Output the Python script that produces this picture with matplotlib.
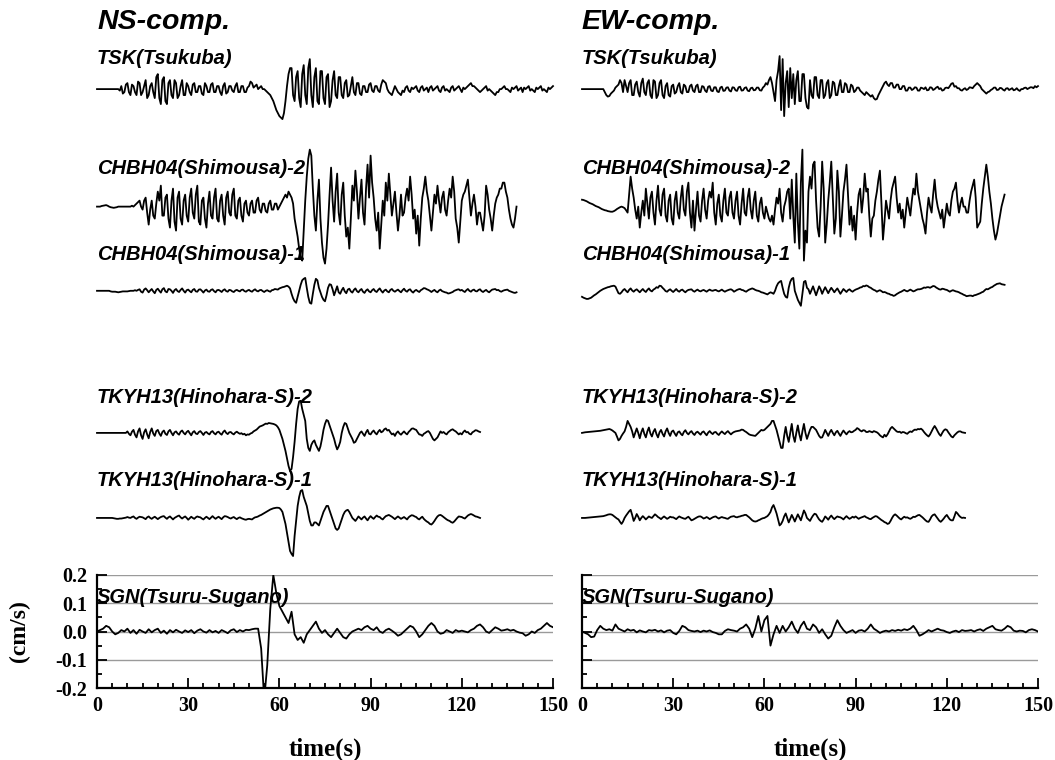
import numpy as np
import matplotlib
matplotlib.use("Agg")
import matplotlib.pyplot as plt
from matplotlib.ticker import MultipleLocator, FormatStrFormatter

plt.rcParams["axes.unicode_minus"] = False

DT_FINE = 0.5  # s, sample interval of the stacked traces
DT = 1.0  # s, sample interval of the SGN traces
REL = 3 / 282.5  # cm/s per unit for the stacked (relative) traces
SGN_UNIT = 0.01  # SGN values are in 0.01 cm/s

STATIONS = ["TSK(Tsukuba)", "CHBH04(Shimousa)-2", "CHBH04(Shimousa)-1",
            "TKYH13(Hinohara-S)-2", "TKYH13(Hinohara-S)-1"]
SGN_NAME = "SGN(Tsuru-Sugano)"
TIME_TICKS = [0, 30, 60, 90, 120, 150]

# ---- NS component ----
tsk_ns = [0, 0, 0, 0, 0, 0, 0, 0, 0, 0, 0, 0, 0, 0, 0, -0.5, 1, -1.5, -1, 1.5,
          2, -1, -2, 1.5, 1, -1, -2, 2.5, 2, -2, -1, 1, 3, -3, -2, 1, 2, -1, -3, 4,
          5, -3, -5, 3, 4, -4, -5, 2, 3, -2, -3, 3, 2, -3, -2, 1, 3, -2, -2, 2,
          1, -1, -2, 1.5, 2, -1, -1, 1, 1, -1.5, -2, 2, 1, -1, -1, 1.5, 2, -1, -1, 1,
          1, -1, -2, 1, 2, -1.5, -1, 1, 1, -0.5, -1, 1, 2, -1, -1, 1, 1, -1, -1, 0.5,
          1, 2.5, 2, 0.5, 1, 1.5, 0, 0.5, 1, 0, 0, -0.5, -1, -1.5, -2, -3, -4, -5.5, -7, -8,
          -9, -9.5, -10, -8, -4, 1, 5, 7, 7, -2, -4, 4, 6, -3, -6, 5, 8, -2, -5, 7,
          10, -2, -6, 4, 7, -4, -5, 6, 6, -3, -5, 4, 5, -6, -4, 3, 6, -2, -3, 4,
          4, -2, -3, 2, 3, -2.5, -2, 1, 4, -1, -2, 2, 2, -1.5, -2, 1, 1, -1, -1, 1.5,
          2, -0.5, -1, 1, 1, -0.5, -1, 1.5, 3, 2.5, 2, 0, -1, -1.5, -2, -0.5, 1, 0, -1, -1.5,
          -2, -0.5, -1, 0.5, 1, -0.5, -1, 0.5, 0, 0.5, 1, -0.5, -1, 0.5, 1, -0.5, 0, 0.5, -1, 0.5,
          1, -0.5, 0, 0.5, 1, -0.5, -1, 0.5, 1, -0.5, 0, -0.5, -1, 0.5, 1, -0.5, 0, 0.5, 1, 0,
          -1, 0.5, 0, 0.5, 1, 1.5, 2, 1, 1, 0.5, 0, -0.5, -1, -0.5, 0, 0.5, 1, -0.5, 0, -0.5,
          -1, -1.5, -2, -1, -1, 0, 0, 0.5, 1, 0, 0, -0.5, -1, 0.5, 0, 0.5, 1, -0.5, 0, 0.5,
          -1, 0.5, 0, 0.5, 1, -0.5, 0, -0.5, -1, 0.5, 0, 0.5, 1, -0.5, 0, -0.5, -1, 0.5, 0, 0.5,
          1]

chbh2_ns = [0, 0, 0, 0.2, 0.3, 0.4, 0.5, 0.3, 0, -0.2, -0.3, -0.4, -0.3, -0.2, 0, 0, 0, 0, 0, 0,
            0, 0, 0, 0.3, 0, 0.5, 1, 1.5, 2, 0, -1, 2, 3, -2, -6, -1, 2, -3, -4, 1,
            5, 2, 7, -3, -3, 3, 4, -4, -7, 2, 6, -5, -8, 3, 5, -4, -6, 2, 4, -3,
            -5, 3, 6, -2, -4, 4, 7, -5, -6, 2, 3, -4, -7, 1, 5, -3, -4, 3, 6, -4,
            -5, 2, 4, -3, -6, 3, 5, -2, -3, 4, 6, -3, -4, 2, 3, -3, -5, 1, 2, -2,
            -3, 1, 2, -2, -2, 2, 3, -1, -2, 1, 1, -1.5, -2, 1, 2, -1, -1, 1, 1, -1,
            0, 1, 2, 3, 4, 3, 5, 4, 3, 1, -4, -7, -10, -14, -17, -18, -8, 2, 10, 16,
            19, 17, 6, -3, -8, 2, 9, -4, -12, -17, -19, -14, -6, 4, 13, 2, -5, 5, 11, -2,
            -6, 4, 8, -3, -10, -7, -14, -4, 7, 2, 12, 5, -4, 3, 9, -2, -6, 6, 14, 3,
            17, 8, 3, -4, -8, -2, -14, -6, 2, -3, 8, 2, 11, 4, -3, 1, 5, -2, -8, -3,
            4, -3, -2, 3, 6, 2, 10, 4, -4, -1, -9, -3, -13, -4, 3, 6, 10, 5, 2, -3,
            -8, -2, 4, 1, 7, 2, -2, 3, 5, -1, -3, 2, 6, 3, 10, 5, -4, -7, -12, -5,
            2, 4, 5, 7, 9, 3, -3, 1, 4, 0, -6, -2, -2, -5, -8, -3, 7, 4, -1, -4,
            -8, -3, 1, 3, 4, 6, 6, 8, 8, 5, 3, -1, -4, -6, -7, -4, 0]

chbh1_ns = [0, 0, 0, 0, 0, 0, 0, 0, 0, -0.2, -0.3, -0.3, -0.3, -0.4, -0.5, -0.4, -0.3, -0.2, -0.2, -0.2,
            -0.2, -0.1, 0, 0, 0, 0.2, 0, 0.3, 0.5, -0.3, -0.6, 0.4, 0.8, 0.2, -0.5, 0.1, 0.6, -0.2, -0.8, 0.3,
            0.7, 0, -0.6, 0.5, 0.9, -0.2, -0.5, 0.6, 0.5, 0, -0.7, 0.2, 0.6, -0.1, -0.4, 0.3, 0.8, 0, -0.6, 0.2,
            0.4, -0.1, -0.5, 0.3, 0.6, -0.2, -0.3, 0.4, 0.5, 0, -0.6, 0.1, 0.4, -0.2, -0.3, 0.3, 0.5, -0.1, -0.5, 0.2,
            0.3, 0, -0.4, 0.2, 0.5, -0.1, -0.3, 0.3, 0.2, -0.2, -0.4, 0.1, 0.3, 0, -0.2, 0.3, 0.4, -0.1, -0.3, 0.1,
            0.3, -0.1, -0.3, 0.2, 0.5, 0, -0.2, 0.2, 0.3, -0.1, -0.4, 0, 0.2, -0.1, -0.3, 0.2, 0.3, 0.6, 0.5, 0.4,
            0.8, 1, 1.2, 1.3, 1.5, 1.7, 1.4, 0.8, -1, -2.5, -3.5, -4, -2, 0, 2, 3.5, 4, 4.3, 1, -2,
            -4, -4.3, -1, 2, 4, 3.5, 1, -0.5, -2, -3, -3.5, -1.5, 1, 2.2, 2, 0.5, -1.5, 0, 1.5, -0.5,
            -1, 0.2, 1, -0.2, -0.8, 0.4, 0.7, -0.2, -0.6, 0.3, 0.8, -0.1, -0.5, 0.2, 0.6, -0.3, -0.7, 0.1, 0.5, -0.2,
            -0.5, 0.2, 0.6, -0.1, -0.4, 0.3, 0.8, 0, -0.6, 0.1, 0.4, -0.2, -0.5, 0.3, 0.6, 0, -0.3, 0.1, 0.4, -0.1,
            -0.5, 0.2, 0.7, 0, -0.3, 0.3, 0.5, -0.2, -0.6, 0, 0.3, -0.1, -0.4, 0.2, 0.5, 0.9, 0.8, 0.5, 0.3, 0,
            -0.4, 0, 0.3, -0.2, -0.5, 0.1, 0.4, -0.1, -0.3, -0.5, -0.6, -0.9, -0.8, -0.6, -0.4, 0, 0.2, 0.4, 0.5, 0.1,
            0.3, -0.1, -0.4, 0.2, 0.6, 0, -0.3, 0.2, 0.4, -0.1, -0.2, 0.3, 0.5, -0.1, -0.4, 0, 0.3, -0.2, -0.5, 0,
            0.4, 0.5, 0.6, 0.2, 0.3, -0.1, -0.3, 0, 0.2, 0.3, 0.4, 0, -0.2, -0.4, -0.6, -0.7, -0.5]

tkyh2_ns = [0, 0, 0, 0, 0, 0, 0, 0, 0, 0, 0, 0, 0, 0, 0, 0, 0, 0, 0, 0,
            0.5, -0.3, -0.8, 0.4, 1, -0.6, -1.5, 0.5, 1.5, -0.8, -2, 0.2, 1.2, -0.5, -1.8, 0.3, 1.5, -0.2, -1, 0.6,
            1, -0.2, -1, 0.3, 0.8, -0.3, -0.7, 0.5, 1, 0, -0.8, 0.2, 0.5, -0.2, -0.6, 0.4, 0.8, 0, -0.5, 0.3,
            0.7, -0.1, -0.8, 0.2, 0.6, -0.2, -0.4, 0.3, 0.6, 0, -0.7, 0.1, 0.3, -0.2, -0.5, 0.3, 0.6, -0.1, -0.5, 0.2,
            0.4, -0.2, -0.6, 0.3, 0.8, 0, -0.4, 0.2, 0.3, -0.2, -0.5, 0.1, 0.4, 0, -0.3, -0.1, -0.5, -0.3, -0.8, -0.5,
            -0.6, -0.2, 0, 0.5, 0.8, 1.1, 1.6, 2.1, 2.3, 2.5, 2.8, 3.1, 3, 3.3, 3.2, 3.1, 3, 2.8, 2.5, 1.9,
            1, -0.5, -2, -4, -6, -8.5, -11, -12.7, -12, -8, -3, 3, 8, 10.5, 10.7, 8, 6, 4, -2, -5,
            -6, -4, -3, -2.5, -4, -5, -6, -4.5, -2, 1, 3, 4.3, 4, 2.5, 1, -0.5, -2, -4, -5.5, -4.5,
            -3, 0, 2, 3.3, 3, 1.5, 0, -1, -2, -3.3, -3, -2, -1, 0, 0.5, -0.3, -1, 0.2, 1, -0.3,
            -0.5, 0.3, 0.8, 0, -0.5, 0.4, 1, 0.2, 0.5, 1.2, 1.5, 0.8, 1, 0.2, -0.5, -0.2, -1, 0, 0.5, -0.2,
            -0.6, 0, 0.5, -0.1, -0.5, 0.3, 0.8, 1.4, 1.5, 1.2, 1, 0.2, -0.5, -0.6, -1, -0.3, 0, 0.4, 0.6, 0,
            -1, -2, -2.5, -2, -1.5, -0.5, 0.5, 0, 0.3, -0.2, -0.5, 0.2, 0.6, 1, 1.2, 0.8, 0.5, 0, -0.5, -0.1,
            -0.5, 0.3, 0.8, 0.2, 0.3, -0.3, -0.5, 0.2, 0.5, 0.9, 0.8, 0.5, 0.3]

tkyh1_ns = [0, 0, 0, 0, 0, 0, 0, 0, 0, 0, 0, -0.1, -0.2, -0.3, -0.3, -0.2, -0.2, -0.1, 0, 0.1,
            0.3, 0.1, 0, 0.3, 0.5, 0, -0.3, 0.1, 0.4, 0.3, 0.2, -0.1, -0.4, 0.2, 0.5, 0, -0.3, 0.1, 0.4, 0,
            -0.4, 0, 0.3, 0.5, 0.6, 0.1, -0.3, 0.2, 0.5, 0, -0.5, 0, 0.3, 0.6, 0.8, 0.2, -0.2, 0.2, 0.5, 0,
            -0.6, -0.1, 0.4, 0, -0.3, 0.2, 0.5, 0.3, 0.2, -0.2, -0.5, 0, 0.4, 0, -0.4, 0.1, 0.6, 0.1, -0.3, 0.1,
            0.4, 0, -0.4, 0.2, 0.6, 0.5, 0.3, 0, -0.2, 0.1, 0.3, -0.1, -0.4, 0, 0.2, -0.1, -0.3, -0.5, -0.6, -0.4,
            -0.3, -0.4, -0.5, -0.1, 0.2, 0.3, 0.5, 0.8, 1, 1.3, 1.6, 1.9, 2.2, 2.5, 2.8, 3, 3.2, 3.3, 3.4, 3.4,
            3.3, 2.8, 2, 0, -2, -5, -8, -11, -12, -12.7, -6, -1, 4, 7, 9, 9.3, 7, 5.5, 4, 1.5,
            -1, -2.5, -2.5, -1.5, -1.5, -2, -2.5, -1, 0.5, 2, 3, 4, 4, 2.5, 1, -0.5, -2, -3.5, -4, -3.5,
            -2, -0.5, 1, 2, 2.5, 2.7, 2, 1, 0, -0.5, -1, -0.3, 0.5, 0, -0.5, 0.1, 0.5, -0.2, -0.8, 0,
            0.6, 0.1, -0.3, 0.3, 0.8, 0.4, 0.3, -0.2, -0.5, 0.1, 0.6, 0.8, 1, 0.7, 0.4, 0, -0.4, 0.1, 0.5, 0.1,
            -0.3, 0, 0.3, -0.1, -0.5, 0.2, 0.6, 0.9, 0.8, 0.5, 0.3, -0.2, -0.5, 0, 0.4, -0.3, -0.8, -1.2, -1.5, -2,
            -2.2, -1.7, -1, -0.2, 0.5, 0.9, 1, 0.7, 0.3, -0.1, -0.5, -0.8, -1, -1.4, -1.6, -1.2, -0.6, 0, 0.5, 0.4,
            0.3, 0, -0.2, 0.3, 0.8, 1.1, 1.3, 1.1, 0.8, 0.5, 0.4, 0.2, 0]

sgn_ns = [0, 0.5, 1, 2, 1.5, 0, -1, -0.5, 0.5, 0,
          1, -0.5, 0.5, -0.8, 0.6, 0, -0.5, 0.8, -0.3, 0.5,
          1, -0.5, 0.3, -0.8, 0.5, -0.3, 0.6, 0, -0.5, 0.4,
          -0.2, 0.5, -0.6, 0.3, 0.8, 0, -0.4, 0.5, -0.3, 0.2,
          -0.5, 0.5, 0, -0.6, 0.4, 0.8, -0.2, 0.5, 0, 0.6,
          0.5, 0.8, 1, 1, -6, -24, -12, 8, 20, 13.5,
          9, 7, 5, 3, 7, -1, -3, -2, -4, -1,
          0.5, 2, 3.5, 1, -0.5, 0.5, -1, -2, -0.5, 1,
          -0.5, -2, -2.5, -1, 0, 0.5, 1, 0.5, 1.5, 2,
          1, 0.5, 1.5, 0, -0.5, 0.5, 1, 0.3, -0.5, -1.5,
          -1, 0, 1, 2, 1.5, 0, -2, -1, 0.5, 2,
          3, 2, 0, -0.8, -0.5, 0.5, 0, -0.5, 0.5, 0,
          0.3, 0, -0.3, 0.5, 1, 2, 2.5, 1.5, 0, -0.5,
          0.5, 1.5, 1, 0.3, 0.5, 0.8, 0.3, 0.6, 0, -0.4,
          -0.6, -1.5, -1, 0, -0.5, 0.5, 1, 2, 3, 2,
          1.5]

# ---- EW component ----
tsk_ew = [0, 0, 0, 0, 0, 0, 0, 0, 0, 0, 0, 0, 0, 0, 0, -1, -2, -2.5, -2.3, -1.5,
          -1, -0.5, 0.5, 1, 1.5, 3, 2, -1, 3, 1, -1, 2, 3, -2, -2, 1.5, 2.5, -1, -2.5, 2,
          3.5, -1, -2, 2, 3, -2, -3, 3, 2.5, -3, -2, 2, 3, -2, -3, 1, 2, -2, -2.5, 1,
          1.5, -1.5, -1, 1, 2, -1, -1.5, 1.5, 1, -1, -1, 1, 1.5, -0.5, -1, 1, 1.5, -1, -1, 1,
          0.8, -0.5, -1, 0.8, 1, -0.5, -0.7, 0.6, 0.6, -0.8, -1, 0.5, 0.8, -0.6, -0.5, 0.5, 0.6, -0.5, -0.8, 0.6,
          0.5, -0.4, -0.6, 0.6, 0.8, -0.5, -0.4, 0.4, 0.6, -0.5, -0.7, 0.3, 0.5, -0.4, -0.3, 0.5, 0.5, -0.4, -0.5, 0.5,
          1, 2, 1.5, 3, 4, 2, -1, -4, 3, 6, 11, -7, 10, -9, 2, 6, -6, 7, -3, 5,
          -5, 3, 6, -4, -4, 5, 5, -3, -6, -6.5, 3, -2, -3, 4, 4, -2, -3, 3, 3, -3,
          -2, 2, 3, -3, -2, 2.5, 2, -2, -2, 1, 3, -1, -1, 2, 1.5, -1, -1, 1.5, 1, -1,
          -0.5, 0.5, 0.5, -0.5, -1, -1.5, -2, -1, -1.5, -2, -2.5, -2, -3, -3.5, -3.3, -2, -1, 0, 1, 2,
          2.5, 1.5, 1, 2, 2, 0.5, 0.5, 1.5, 1.5, 0, 0, 1, 1, -0.5, -0.5, 0.5, 0.5, -0.3, 0, 0.6,
          0.5, -0.5, -0.5, 0.5, 0.3, 0, 0.6, -0.4, -0.3, 0.6, 0.5, -0.3, 0, 0.5, 0.8, 0, 0.3, -0.5, -0.3, 0.4,
          0.5, 0.3, 1, 1.8, 2, 0.8, 1, 0.3, 0.3, -0.3, -0.5, 0, 0.3, -0.3, 0, 0.6, 0.5, 0.3, 1, 1.5,
          2, 1.5, 1, 0, -0.5, -1, -1.5, -1, -0.8, -0.3, 0, 0.5, 0.5, -0.3, -0.2, 0.4, 0.3, -0.2, -0.5, 0.2,
          0.3, -0.3, 0, 0.3, -0.4, -0.2, 0.3, -0.3, -0.6, 0, 0, 0.4, 0.5, 0, 0.3, 0.6, 0.6, 0.3, 1, 0.6,
          1]

chbh2_ew = [2.3, 2.2, 2, 1.8, 1.5, 1.2, 1, 0.8, 0.5, 0.2, 0, -0.2, -0.5, -0.8, -1, -1.2, -1.3, -1.5, -1.6, -1.7,
            -1.7, -1.5, -1.2, -0.8, -0.5, -0.2, 0, -0.2, -0.5, -1.2, -2, 4, 10, 6, 3, -1, -4, 0, -7, -2,
            2, -3, 6, 1, -4, 3, 5, -2, -6, 2, 7, -1, -3, 4, 6, -3, -5, 2, 4, -4,
            -6, 2, 5, -2, -4, 3, 7, -1, -3, 5, 8, -2, -7, 2, -8, -1, 5, -3, -5, 2,
            6, -1, -4, 2, 5, 3, 8, -2, -6, 1, 4, -3, -5, 2, 6, -2, -3, 3, 5, -2,
            -4, 2, 5, -3, -6, 1, 6, -2, -3, 3, 6, -1, -4, 2, 5, -3, -5, 1, 3, -2,
            -4, 0, -2, -4, -5, -3, -6, -1, 3, 1, 6, -2, -5, 0, 2, 5, 6, -4, 9, -3,
            -12, 11, -5, -14, 8, 19, -18, -8, -12, 5, 10, 6, 14, 15, 2, -7, -10, 0, 15, 6,
            -12, -6, 2, 8, 15, 3, -9, -4, 12, 5, -10, -3, 5, 9, 14, 4, -6, 0, -8, -3,
            -11, -2, 4, 6, -2, 3, 11, 5, 6, -3, -10, -4, -3, 2, 5, 9, 12, 1, -11, -5,
            2, -1, -4, 2, 6, 8, 10, 3, -2, 1, -4, -1, -7, -2, 3, 0, -3, 2, 6, 4,
            11, 5, 2, -1, -4, -6, -9, -2, 3, 0, -2, 4, 9, 3, 0, -2, -4, -1, -7, -3,
            1, -2, -3, 2, 5, 6, 8, 2, -2, 1, 3, 0, 0, -2, -2, 2, 5, 7, 9, 3,
            -7, -6, -5, 1, 6, 10, 14, 10, 5, 1, -4, -8, -11, -9, -6, -3, 0, 2, 4]

chbh1_ew = [-2, -2.3, -2.5, -2.7, -2.7, -2.5, -2.3, -1.9, -1.5, -1.2, -0.8, -0.4, 0, 0.3, 0.6, 0.8, 1, 1.2, 1.3, 1.5,
            1.6, 1.7, 1.4, 0.3, -0.8, -1, -0.5, 0.2, 0.6, 0, -0.5, 0.3, 0.8, 0.1, -0.3, 0.2, 0.5, 0, -0.5, 0.1,
            0.6, 0, -0.4, 0.3, 0.8, 0.1, -0.2, 0.4, 0.7, 1.2, 1, 1.7, 1.6, 1, 0.5, -0.1, -0.3, 0.2, 0.5, 0,
            -0.4, 0.1, 0.6, 0, -0.3, 0.2, 0.4, -0.1, -0.5, 0, 0.3, 0.4, 0.5, 0, -0.3, 0.1, 0.4, 0, -0.2, 0.1,
            0.3, 0, -0.3, 0.1, 0.4, 0.1, 0, 0.2, 0.3, 0, -0.2, 0.1, 0.4, 0, -0.3, 0, 0.2, 0.4, 0.5, 0.2,
            -0.3, 0, 0.3, 0.5, 0.6, 0.3, 0.2, -0.1, -0.3, 0.1, 0.4, 0.6, 0.8, 0.6, 0.3, 0.1, 0, -0.2, -0.5, -0.6,
            -0.8, -1, -1.2, -0.8, -0.5, -0.7, -1, 0, 1.5, 2.5, 3, 3.3, 1, -1, -2, -2.3, 1, 3, 4, 4.3,
            0, -1.5, -3, -4, -5, -1, 3, 3.3, 1, 0.5, -1, 0.3, 1.5, 0, -1.5, 0, 1.5, 0.5, -1, 0.2,
            1.2, 0.2, -0.8, 0.2, 1, 0.3, -0.5, 0.2, 0.8, -0.1, -1, -0.2, 0.6, 0.1, -0.4, 0.2, 0.5, 0, -0.3, 0.1,
            0.4, 0.6, 0.8, 1.1, 1.2, 1.6, 1.5, 1.8, 1.6, 1.2, 1, 0.6, 0.3, 0.1, -0.3, 0, 0.2, -0.1, -0.5, -0.4,
            -0.6, -0.9, -1, -1.3, -1.4, -1.7, -1.5, -1.1, -0.8, -0.5, -0.3, 0, 0.3, 0, -0.2, 0.1, 0.4, 0.1, -0.2, 0,
            0.3, 0.5, 0.5, 0.6, 0.8, 1.1, 1, 1.2, 1.2, 1, 1.3, 1.6, 1.5, 1.1, 0.8, 0.5, 0.4, 0.7, 0.6, 0.4,
            0.3, 0, -0.3, 0, 0.2, 0, -0.2, -0.3, -0.5, -0.8, -1, -1.3, -1.5, -1.8, -1.7, -1.6, -1.6, -1.8, -1.5, -1.4,
            -1.2, -1, -0.8, -0.5, -0.3, 0.2, 0.6, 0.5, 0.8, 1.1, 1.3, 1.7, 2, 2.3, 2.4, 2.5, 2.2, 2.1, 2]

tkyh2_ew = [0, 0.1, 0.2, 0.25, 0.3, 0.35, 0.4, 0.45, 0.5, 0.55, 0.6, 0.65, 0.7, 0.8, 0.9, 1, 1.1, 1.2, 1.3, 1.1,
            0.8, 0.4, 0, -1.2, -2.5, -2, -1, -0.2, 0.5, 2, 4, 3, 2, 0.5, -1.5, 0, 1.5, 0, -1.8, 0.2,
            1.5, -0.3, -1.5, 0.5, 1.8, -0.2, -1.2, 0.4, 1.3, -0.4, -1.5, 0.2, 1, -0.3, -1.2, 0.5, 1.5, 0, -1, 0.4,
            0.8, -0.2, -1, 0.2, 0.5, -0.3, -0.8, 0.3, 0.9, 0, -0.5, 0.2, 0.6, -0.2, -0.7, 0.1, 0.4, -0.1, -0.6, 0.2,
            0.5, -0.2, -0.8, 0.1, 0.6, 0, -0.4, 0.2, 0.3, -0.3, -0.7, 0, 0.5, 0, -0.4, 0.2, 0.6, 0, -0.5, 0,
            0.3, 0.5, 0.6, 0.7, 0.8, 1.1, 1, 0.6, 0.3, -0.1, -0.5, -0.7, -0.8, -0.9, -1, -0.5, 0, 0.5, 1, 0.8,
            1, 1.5, 2, 2.5, 3, 4, 4, 2.5, 1, -1, -3, -5, -5, -1, 2, -1, -3, 0, 3, -1,
            -3, 0, 2.5, -0.5, -2.5, 0.5, 3, 0, -2, -0.5, 1, 2, 2, 1.5, 1, 0, -1, -1.6, -1.5, -0.3,
            1, 0, -1, 0.2, 1, 0, -0.8, 0.2, 0.7, -0.2, -1, 0, 0.8, 0.1, -0.5, 0.2, 0.6, 0.2, 0.3, 0.7,
            1, 1.6, 1.3, 0.8, 0.5, 0.9, 0.8, 0.3, 0.3, 0.6, 0.4, 0.2, 0.6, 0.4, 0.2, -0.2, -0.8, -1.2, -1.5, -0.6,
            -1.2, -0.5, 0.5, 1.5, 2, 1.5, 1, 0.5, 0.3, 0.4, 0, 0.3, 0.2, -0.1, -0.3, 0.2, 0.5, 0.3, 0.8, 1.1,
            1, 1.3, 1.2, 1.4, 1, 0.3, -0.3, -0.8, -1.2, -0.5, 0.5, 1.5, 2.3, 1.5, 0.5, -0.4, -1, 0, 0.8, 1.2,
            1, 0.2, -0.5, -1.2, -1.5, -0.8, -0.3, 0.2, 0.5, 0.5, 0.2, 0.1, 0]

tkyh1_ew = [0, 0, 0, 0.05, 0.1, 0.15, 0.2, 0.25, 0.3, 0.35, 0.4, 0.45, 0.5, 0.55, 0.6, 0.75, 0.9, 1.1, 1.2, 1.2,
            1, 0.6, 0.2, -0.2, -0.5, -1.3, -2, -1.2, 0, 0.8, 1.5, 2.2, 2.7, 1, -1, 0, 1.3, 0.4, -0.8, 0,
            0.6, 0.1, -0.5, 0, 0.5, 0.2, 0, 0.6, 1.2, 0.8, 0.3, 0, -0.4, 0.1, 0.5, 0.1, -0.3, 0, 0.4, 0.2,
            0.2, -0.1, -0.4, 0.1, 0.5, 0.2, 0, -0.2, -0.3, 0.1, 0.4, -0.2, -0.8, -0.6, -0.3, 0, 0.3, 0.5, 0.5, 0.2,
            -0.2, 0, 0.3, 0, -0.4, -0.1, 0.2, 0.4, 0.5, 0.1, -0.2, 0.1, 0.3, 0.1, 0, -0.2, -0.3, 0.1, 0.4, 0.5,
            0.6, 0.3, 0.2, 0.4, 0.5, 0.7, 0.8, 1, 1, 0.6, 0.2, -0.3, -0.8, -1.1, -1.2, -1.1, -0.8, -0.6, -0.3, -0.1,
            0, 0.3, 0.6, 1.2, 2, 3.5, 4.3, 3, 1.5, -0.5, -2.5, -2, -1, 0.5, 1.5, 0, -1.5, -0.3, 1, 0,
            -1.2, 0, 1.2, 0.2, -0.8, 0.8, 2.5, 1.5, 0, -0.5, -1, 0, 0.8, 1.4, 1.2, 0.3, -0.5, -1, -1.3, -0.5,
            0.5, 0, -0.6, 0.2, 0.8, 0.1, -0.4, 0.1, 0.5, 0.3, 0.2, -0.1, -0.5, 0.1, 0.6, 0.1, -0.3, 0, 0.4, 0.1,
            0.5, 0.1, -0.3, 0, 0.2, 0.4, 0.6, 0.2, 0, -0.3, -0.4, 0, 0.3, 0.6, 0.5, 0.1, -0.3, -0.7, -1, -1.4,
            -1.6, -2, -1.8, -1, 0, 0.8, 1.2, 0.8, 0.3, -0.2, -0.5, 0, 0.4, 0.1, 0.2, -0.1, -0.3, 0, 0.4, 0.3,
            0.6, 0.9, 1, 0.6, 0.2, -0.3, -0.8, -1.2, -1.3, -0.5, 0.5, 1, 1.2, 0.5, -0.2, -0.9, -1.3, -0.8, -0.2, 0.5,
            1, 0.2, -0.5, -0.8, -0.8, 0.5, 2, 1.5, 0.8, 0.3, 0, 0.1, 0]

sgn_ew = [0, -0.5, -1, -2, -1.8, 0.5, 2, 1, 0.5, 0.8,
          0.3, 2.5, 1, 0.5, 0, 0.8, 0.3, 0.6, -0.3, 0.4,
          0, -0.3, 0.5, 0.3, 0.6, 0, 0.4, -0.3, 0.3, 0.5,
          -0.5, -1, 0.2, 2, 1.5, 0.5, 0.2, 0, 0.3, -0.2,
          0.3, 0, 0.4, -0.2, -0.5, -1, -1, 0.2, 0.8, 0.5,
          0.3, 0, 1, 1.5, 2.5, 1, -2, 1, 5.5, 0,
          4, 5.5, -5, -1, 2, -0.5, 2, 0, 1.5, 3.5,
          1, -0.5, 2, 3.5, 1, 0.5, 2.5, 1.5, -0.5, 0.8,
          -1, -2.5, -1.5, 1.5, 4, 2, 0.5, -0.5, 0, 0.5,
          -0.5, 0.3, 0.5, 0, 1, 2.5, 1, 0.3, -0.5, 0,
          0.3, 0, 0.5, 0.2, 0.6, 0.3, 0.8, 0.5, 1, 2,
          0.5, -1.5, -1, -0.3, 0.5, 0, 0.5, 1, 0.5, 0.3,
          -0.2, -0.5, 0, 0.3, -0.2, 0.5, 0.2, 0.3, 0.5, 0,
          0.5, 0.8, 0.2, 1, 1.5, 2, 0.8, 0.5, 0.3, 1,
          2, 1.5, 0.3, 0, 0.3, 0.2, -0.3, 0.5, 0.8, 0.5,
          0]

# layout: baseline of each stacked trace and its label, in cm/s above SGN zero
OFFSETS = [1.92, 1.504, 1.206, 0.703, 0.402]
LABEL_Y = [2.03, 1.64, 1.333, 0.83, 0.533]
TITLE_Y = 2.157
SGN_LABEL_Y = 0.122

LABEL_FONT = dict(family="Liberation Sans", weight="bold", style="italic")
TICK_FONT = dict(family="Liberation Serif", weight="bold")


def draw_panel(ax, title, traces, sgn, show_ylabels):
    for vals, off, ly, name in zip(traces, OFFSETS, LABEL_Y, STATIONS):
        v = np.asarray(vals, dtype=float) * REL
        t = np.arange(len(v)) * DT_FINE
        ax.plot(t, v + off, color="black", lw=1.3, clip_on=False, zorder=3)
        ax.text(0, ly, name, fontsize=14.5, va="center", ha="left",
                clip_on=False, **LABEL_FONT)

    s = np.asarray(sgn, dtype=float) * SGN_UNIT
    ax.plot(np.arange(len(s)) * DT, s, color="black", lw=1.3, zorder=3)
    ax.text(0, SGN_LABEL_Y, SGN_NAME, fontsize=14.5, va="center", ha="left",
            zorder=4, **LABEL_FONT)
    ax.text(0, TITLE_Y, title, fontsize=20.5, va="center", ha="left",
            clip_on=False, **LABEL_FONT)

    ax.set_xlim(0, 150)
    ax.set_ylim(-0.2, 0.2)
    ax.set_xticks(TIME_TICKS)
    ax.xaxis.set_minor_locator(MultipleLocator(5))
    ax.yaxis.set_major_locator(MultipleLocator(0.1))
    ax.yaxis.set_minor_locator(MultipleLocator(0.05))
    ax.yaxis.set_major_formatter(FormatStrFormatter("%.1f"))
    ax.yaxis.grid(True, color="#9a9a9a", lw=1.0, zorder=1)
    ax.set_axisbelow(True)

    for side in ("top", "right"):
        ax.spines[side].set_visible(False)
    for side in ("left", "bottom"):
        ax.spines[side].set_linewidth(1.6)
        ax.spines[side].set_zorder(4)

    ax.tick_params(which="both", direction="in", width=1.3, top=False, right=False)
    ax.tick_params(which="major", length=7.5)
    ax.tick_params(which="minor", length=3.5)
    ax.tick_params(axis="x", which="major", pad=6, labelsize=14.5)
    ax.tick_params(axis="y", which="major", pad=7, labelsize=14.5,
                   labelleft=show_ylabels)
    for lab in ax.get_xticklabels() + ax.get_yticklabels():
        lab.set_fontfamily(TICK_FONT["family"])
        lab.set_fontweight(TICK_FONT["weight"])

    ax.set_xlabel("time(s)", fontsize=18, **TICK_FONT)
    ax.xaxis.set_label_coords(0.5, -0.44)
    if show_ylabels:
        ax.set_ylabel("(cm/s)", fontsize=17, **TICK_FONT)
        ax.yaxis.set_label_coords(-0.147, 0.5)


fig = plt.figure(figsize=(10.55, 7.6), dpi=100)
ax_ns = fig.add_axes([97 / 1055, 72 / 760, 456 / 1055, 113 / 760])
ax_ew = fig.add_axes([582 / 1055, 72 / 760, 456 / 1055, 113 / 760])

draw_panel(ax_ns, "NS-comp.", [tsk_ns, chbh2_ns, chbh1_ns, tkyh2_ns, tkyh1_ns],
           sgn_ns, True)
draw_panel(ax_ew, "EW-comp.", [tsk_ew, chbh2_ew, chbh1_ew, tkyh2_ew, tkyh1_ew],
           sgn_ew, False)

fig.savefig("out.png", dpi=100)
